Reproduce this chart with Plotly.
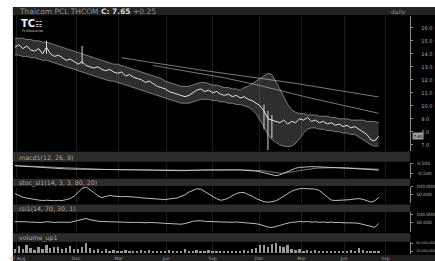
import plotly.graph_objects as go

W, H = 435, 261

# ---------------- data ----------------
price_close = [
    14.5, 14.7, 14.4, 14.6, 14.3, 14.2, 14.4, 14.0, 14.5, 14.0,
    13.8, 13.9, 13.7, 13.5, 13.6, 13.4, 13.2, 13.4, 13.1, 13.0,
    12.9, 13.0, 12.8, 12.7, 12.8, 12.6, 12.5, 12.6, 12.3, 12.4,
    12.2, 12.1, 12.0, 11.8, 11.9, 11.7, 11.5, 11.4, 11.3, 11.1,
    11.0, 10.9, 10.8, 10.7, 10.8, 11.0, 11.2, 11.3, 11.1, 11.2,
    11.0, 11.1, 10.9, 10.8, 10.9, 10.7, 10.8, 10.6, 10.7, 10.5,
    10.4, 10.2, 10.0, 9.6, 9.0, 8.9, 8.8, 8.7, 8.9, 8.6,
    8.8, 8.7, 9.0, 8.9, 9.1, 8.8, 8.9, 8.7, 8.8, 8.6,
    8.7, 8.5, 8.6, 8.4, 8.5, 8.3, 8.4, 8.2, 8.0, 7.8,
    7.4, 7.3, 7.65,
]
bb_upper = [
    15.2, 15.2, 15.2, 15.1, 15.1, 15.0, 15.0, 14.9, 14.9, 14.8,
    14.7, 14.6, 14.5, 14.4, 14.3, 14.2, 14.1, 14.0, 13.9, 13.8,
    13.7, 13.6, 13.5, 13.4, 13.3, 13.2, 13.2, 13.1, 13.0, 12.9,
    12.8, 12.7, 12.6, 12.5, 12.4, 12.3, 12.2, 12.1, 11.9, 11.8,
    11.7, 11.6, 11.5, 11.5, 11.5, 11.6, 11.7, 11.8, 11.8, 11.7,
    11.6, 11.6, 11.5, 11.4, 11.4, 11.3, 11.3, 11.2, 11.4, 11.5,
    11.7, 11.9, 12.1, 12.3, 12.5, 12.4, 11.9, 11.3, 10.7, 10.1,
    9.7, 9.5, 9.4, 9.4, 9.3, 9.3, 9.3, 9.2, 9.2, 9.2,
    9.1, 9.1, 9.0, 9.0, 9.0, 8.9, 8.9, 8.9, 8.9, 8.8,
    8.8, 8.8, 8.7,
]
bb_lower = [
    13.9, 13.9, 13.8, 13.8, 13.7, 13.7, 13.6, 13.5, 13.5, 13.4,
    13.3, 13.2, 13.1, 13.0, 12.9, 12.8, 12.7, 12.6, 12.5, 12.4,
    12.3, 12.2, 12.1, 12.0, 11.9, 11.9, 11.8, 11.7, 11.6, 11.5,
    11.4, 11.3, 11.2, 11.1, 11.0, 10.9, 10.8, 10.7, 10.6, 10.5,
    10.4, 10.3, 10.2, 10.2, 10.2, 10.3, 10.4, 10.5, 10.5, 10.5,
    10.4, 10.4, 10.3, 10.3, 10.2, 10.2, 10.1, 10.1, 10.0, 9.9,
    9.7, 9.4, 8.9, 8.3, 7.8, 7.4, 7.2, 7.0, 6.9, 6.85,
    6.9, 7.1, 7.5, 7.9, 8.2, 8.3, 8.3, 8.2, 8.2, 8.1,
    8.1, 8.0, 8.0, 7.9, 7.9, 7.8, 7.8, 7.6, 7.4, 7.2,
    7.0, 6.9, 6.9,
]
ma_long1 = [None] * 27 + [
    13.70, 13.66, 13.61, 13.56, 13.51, 13.46, 13.41, 13.36, 13.31, 13.26,
    13.21, 13.16, 13.11, 13.06, 13.01, 12.96, 12.91, 12.86, 12.82, 12.78,
    12.74, 12.70, 12.66, 12.62, 12.58, 12.54, 12.50, 12.46, 12.42, 12.38,
    12.34, 12.30, 12.26, 12.22, 12.18, 12.14, 12.10, 12.06, 12.02, 11.97,
    11.92, 11.87, 11.82, 11.77, 11.72, 11.67, 11.62, 11.57, 11.52, 11.47,
    11.42, 11.37, 11.32, 11.27, 11.22, 11.17, 11.12, 11.07, 11.02, 10.97,
    10.92, 10.87, 10.82, 10.77, 10.72, 10.68,
]
ma_long2 = [None] * 35 + [
    13.10, 13.05, 13.00, 12.95, 12.90, 12.85, 12.80, 12.75, 12.70, 12.65,
    12.60, 12.55, 12.50, 12.45, 12.39, 12.33, 12.27, 12.21, 12.15, 12.09,
    12.03, 11.97, 11.91, 11.85, 11.78, 11.71, 11.64, 11.56, 11.48, 11.40,
    11.32, 11.24, 11.16, 11.08, 11.00, 10.93, 10.86, 10.79, 10.72, 10.65,
    10.58, 10.51, 10.44, 10.37, 10.30, 10.23, 10.16, 10.09, 10.02, 9.95,
    9.88, 9.81, 9.74, 9.67, 9.60, 9.53, 9.47, 9.42,
]
wick_index = [8, 17, 63, 64, 65]
wick_high = [15.0, 14.6, 10.1, 9.6, 9.3]
wick_low = [14.0, 13.2, 8.2, 6.6, 7.5]

macd_line = [
    0.30, 0.27, 0.24, 0.20, 0.18, 0.15, 0.12, 0.10, 0.08, 0.05,
    0.03, 0.01, 0.00, -0.02, -0.03, -0.04, -0.05, -0.06, -0.06, -0.07,
    -0.08, -0.08, -0.09, -0.09, -0.10, -0.10, -0.10, -0.11, -0.11, -0.11,
    -0.12, -0.12, -0.12, -0.13, -0.13, -0.14, -0.14, -0.15, -0.16, -0.17,
    -0.18, -0.19, -0.20, -0.20, -0.19, -0.17, -0.15, -0.13, -0.12, -0.11,
    -0.11, -0.10, -0.10, -0.11, -0.11, -0.12, -0.12, -0.13, -0.14, -0.16,
    -0.19, -0.24, -0.31, -0.42, -0.55, -0.66, -0.70, -0.62, -0.45, -0.25,
    -0.08, 0.05, 0.13, 0.18, 0.20, 0.21, 0.20, 0.19, 0.17, 0.15,
    0.13, 0.11, 0.09, 0.07, 0.05, 0.03, 0.01, -0.01, -0.04, -0.07,
    -0.10, -0.13, -0.14,
]
macd_signal = [
    0.32, 0.30, 0.28, 0.26, 0.24, 0.22, 0.19, 0.17, 0.15, 0.13,
    0.11, 0.09, 0.07, 0.05, 0.03, 0.02, 0.00, -0.01, -0.02, -0.03,
    -0.04, -0.05, -0.06, -0.07, -0.08, -0.08, -0.09, -0.09, -0.10, -0.10,
    -0.11, -0.11, -0.11, -0.12, -0.12, -0.12, -0.13, -0.13, -0.14, -0.14,
    -0.15, -0.16, -0.17, -0.18, -0.18, -0.18, -0.17, -0.16, -0.15, -0.14,
    -0.13, -0.12, -0.12, -0.11, -0.11, -0.11, -0.12, -0.12, -0.12, -0.13,
    -0.14, -0.15, -0.18, -0.22, -0.28, -0.35, -0.41, -0.45, -0.45, -0.41,
    -0.34, -0.26, -0.18, -0.11, -0.05, 0.00, 0.04, 0.07, 0.09, 0.10,
    0.11, 0.11, 0.11, 0.10, 0.09, 0.08, 0.07, 0.05, 0.03, 0.01,
    -0.01, -0.03, -0.05,
]
stoch = [
    56, 45, 33, 28, 22, 19, 15, 12, 14, 12,
    11, 13, 12, 18, 25, 40, 65, 88, 98, 82,
    62, 42, 30, 38, 44, 40, 37, 36, 38, 37,
    34, 32, 29, 27, 28, 27, 22, 19, 18, 22,
    25, 28, 38, 48, 65, 78, 86, 84, 68, 56,
    38, 24, 14, 18, 28, 44, 56, 63, 62, 50,
    40, 24, 12, 5, 1, 4, 10, 24, 38, 55,
    72, 82, 87, 88, 88, 87, 84, 75, 55, 33,
    15, 12, 13, 12, 14, 18, 22, 24, 20, 12,
    2, 10, 31,
]
rsi = [
    54, 55, 52, 53, 51, 50, 52, 49, 54, 50,
    49, 51, 50, 48, 50, 56, 62, 70, 74, 66,
    60, 57, 55, 54, 52, 51, 50, 51, 49, 50,
    49, 50, 48, 47, 49, 46, 47, 45, 43, 40,
    38, 37, 38, 42, 50, 56, 59, 60, 56, 55,
    51, 52, 50, 49, 51, 50, 52, 50, 51, 49,
    45, 41, 36, 28, 20, 17, 22, 30, 38, 45,
    50, 51, 55, 53, 55, 51, 53, 50, 52, 49,
    51, 48, 50, 47, 48, 45, 46, 43, 36, 30,
    22, 18, 42,
]
volume_m = [
    22, 35, 18, 40, 26, 15, 30, 20, 38, 24,
    28, 32, 18, 25, 36, 22, 20, 30, 48, 26,
    15, 22, 12, 18, 10, 14, 9, 12, 16, 8,
    11, 7, 13, 9, 15, 10, 8, 12, 6, 14,
    9, 11, 7, 18, 12, 8, 15, 10, 9, 13,
    8, 11, 6, 9, 12, 7, 10, 8, 14, 12,
    18, 25, 38, 42, 30, 45, 52, 35, 28, 40,
    22, 15, 18, 12, 14, 10, 13, 9, 11, 8,
    10, 7, 9, 12, 8, 15, 11, 24, 13, 9,
    12, 8, 10,
]
volume = [v * 1_000_000 for v in volume_m]

month_labels = ["'17 Aug", "Dec", "Mar", "Jun", "Sep", "Dec", "Mar", "Jun", "Sep"]
month_pos = [0.5, 15.5, 26.25, 38.25, 50, 61.75, 72.5, 83.25, 93.75]
price_ticks = [16, 15, 14, 13, 12, 11, 10, 9, 8, 7]
macd_ticks = [0.5, -0.5]
macd_tick_text = ["0.500", "-0.500"]
osc_ticks = [100, 50]
osc_tick_text = ["100.000", "50.000"]
vol_ticks = [50_000_000, 10_000_000]
vol_tick_text = ["50,000,000", "10,000,000"]

title_text = "Thaicom PCL THCOM <b style='color:#dcdcdc'>C: 7.65</b> +0.25"
panel_labels = ["macd1(12, 26, 9)", "stoc_sl1(14, 3, 3, 80, 20)",
                "rsi1(14, 70, 30, 1)", "volume_up1"]
last_close = 7.65

# ---------------- layout helpers ----------------
def fx(p):
    return p / W

def fy(p):
    return 1 - p / H

idx = list(range(len(price_close)))
FONT = "DejaVu Sans"
LINE = "#d0d0d0"

fig = go.Figure()

# main panel
fig.add_trace(go.Scatter(x=idx, y=bb_upper, mode="lines",
                         line=dict(color="rgba(200,200,200,0.7)", width=0.8),
                         xaxis="x", yaxis="y", hoverinfo="skip"))
fig.add_trace(go.Scatter(x=idx, y=bb_lower, mode="lines", fill="tonexty",
                         fillcolor="rgba(120,120,120,0.38)",
                         line=dict(color="rgba(200,200,200,0.7)", width=0.8),
                         xaxis="x", yaxis="y", hoverinfo="skip"))
fig.add_trace(go.Scatter(x=idx, y=ma_long1, mode="lines",
                         line=dict(color="rgba(190,190,190,0.8)", width=0.8),
                         xaxis="x", yaxis="y"))
fig.add_trace(go.Scatter(x=idx, y=ma_long2, mode="lines",
                         line=dict(color="rgba(190,190,190,0.8)", width=0.8),
                         xaxis="x", yaxis="y"))
wx, wy = [], []
for i, hi, lo in zip(wick_index, wick_high, wick_low):
    wx += [i, i, None]
    wy += [lo, hi, None]
fig.add_trace(go.Scatter(x=wx, y=wy, mode="lines",
                         line=dict(color="#d8d8d8", width=1),
                         xaxis="x", yaxis="y"))
fig.add_trace(go.Scatter(x=idx, y=price_close, mode="lines",
                         line=dict(color="#e4e4e4", width=1),
                         xaxis="x", yaxis="y"))

# macd
fig.add_trace(go.Scatter(x=idx, y=macd_signal, mode="lines",
                         line=dict(color="#9a9a9a", width=0.8),
                         xaxis="x2", yaxis="y2"))
fig.add_trace(go.Scatter(x=idx, y=macd_line, mode="lines",
                         line=dict(color=LINE, width=0.9),
                         xaxis="x2", yaxis="y2"))
# stochastic
fig.add_trace(go.Scatter(x=idx, y=stoch, mode="lines",
                         line=dict(color=LINE, width=0.9),
                         xaxis="x3", yaxis="y3"))
# rsi
fig.add_trace(go.Scatter(x=idx, y=rsi, mode="lines",
                         line=dict(color=LINE, width=0.9),
                         xaxis="x4", yaxis="y4"))
# volume
fig.add_trace(go.Bar(x=idx, y=volume, marker=dict(color="#9a9a9a", line=dict(width=0)),
                     width=0.45, xaxis="x5", yaxis="y5"))

xdom = [fx(8), fx(410)]


def yaxis_style(size=5, standoff=2):
    return dict(showline=True, linecolor="#8a8a8a", linewidth=1,
                ticks="outside", ticklen=2, tickcolor="#8a8a8a",
                tickfont=dict(size=size, color="#b0b0b0", family=FONT),
                side="right", showgrid=False, zeroline=False,
                ticklabelstandoff=standoff)


layout = dict(
    width=W, height=H, autosize=False,
    margin=dict(l=0, r=0, t=0, b=0),
    paper_bgcolor="white", plot_bgcolor="rgba(0,0,0,0)",
    showlegend=False, bargap=0,
    font=dict(family=FONT, color="#aaaaaa"),
)
for k in range(1, 6):
    xname = "xaxis" if k == 1 else f"xaxis{k}"
    yref = "y" if k == 1 else f"y{k}"
    layout[xname] = dict(domain=xdom, range=[-0.5, 100], anchor=yref,
                         showgrid=True, gridcolor="#1d1d1d", gridwidth=1,
                         zeroline=False, showline=False,
                         tickvals=month_pos, ticktext=month_labels,
                         showticklabels=(k == 5), ticks="",
                         ticklabelstandoff=0,
                         tickfont=dict(size=4.5, color="#a0a0a0", family=FONT))
    if k > 1:
        layout[xname]["matches"] = "x"

layout["yaxis"] = dict(domain=[fy(150), fy(14)], range=[6.534, 16.916],
                       anchor="x", tickvals=price_ticks, tickformat=".1f",
                       **yaxis_style(5, 7))
layout["yaxis2"] = dict(domain=[fy(177), fy(162)], range=[-0.9, 0.6], anchor="x2",
                        tickvals=macd_ticks, ticktext=macd_tick_text, **yaxis_style(4.5, 3))
layout["yaxis3"] = dict(domain=[fy(203), fy(186)], range=[-6.25, 100], anchor="x3",
                        tickvals=osc_ticks, ticktext=osc_tick_text, **yaxis_style(4.5, 2))
layout["yaxis4"] = dict(domain=[fy(232), fy(212)], range=[-12.5, 112.5], anchor="x4",
                        tickvals=osc_ticks, ticktext=osc_tick_text, **yaxis_style(4.5, 2))
layout["yaxis5"] = dict(domain=[fy(254), fy(242)], range=[-5_000_000, 55_000_000],
                        anchor="x5", tickvals=vol_ticks, ticktext=vol_tick_text,
                        **yaxis_style(3.4, 2))

shapes = []
# dark page area (white border left and top)
shapes.append(dict(type="rect", xref="paper", yref="paper", x0=fx(8), x1=1,
                   y0=0, y1=fy(5), fillcolor="#000000", line=dict(width=0),
                   layer="below"))
# title bar
shapes.append(dict(type="rect", xref="paper", yref="paper", x0=fx(8), x1=1,
                   y0=fy(13), y1=fy(5), fillcolor="#232323", line=dict(width=0),
                   layer="below"))
# panel header bands
for top, bot in [(151, 161), (178, 185.5), (204, 211.5), (233, 241.5)]:
    shapes.append(dict(type="rect", xref="paper", yref="paper", x0=fx(8), x1=fx(410),
                       y0=fy(bot), y1=fy(top), fillcolor="#2c2c2c",
                       line=dict(width=0), layer="below"))
# bottom axis strip
shapes.append(dict(type="rect", xref="paper", yref="paper", x0=fx(8), x1=1,
                   y0=0, y1=fy(255), fillcolor="#1e1e1e", line=dict(width=0),
                   layer="below"))
layout["shapes"] = shapes

annotations = [
    dict(text=title_text, xref="paper", yref="paper", x=fx(12), y=fy(9.2),
         xanchor="left", yanchor="middle", showarrow=False,
         font=dict(size=7.5, color="#8c8c8c", family=FONT)),
    dict(text="daily", xref="paper", yref="paper", x=fx(408), y=fy(10),
         xanchor="right", yanchor="middle", showarrow=False,
         font=dict(size=6, color="#8a8a8a", family=FONT)),
    dict(text="<b>TC</b><b style='font-size:8px'>☷</b>", xref="paper", yref="paper",
         x=fx(14), y=fy(22), xanchor="left", yanchor="middle", showarrow=False,
         font=dict(size=10, color="#f2f2f2", family=FONT)),
    dict(text="Professional", xref="paper", yref="paper", x=fx(15), y=fy(29.5),
         xanchor="left", yanchor="middle", showarrow=False,
         font=dict(size=3.5, color="#bbbbbb", family=FONT)),
    dict(text=f"{last_close:.2f}", xref="paper", yref="y", x=fx(412), y=last_close,
         xanchor="left", yanchor="middle", showarrow=False, bgcolor="#9a9a9a",
         borderpad=0.5, font=dict(size=4, color="#111111", family=FONT)),
]
for lab, py in zip(panel_labels, [156.5, 182, 208, 237.5]):
    annotations.append(dict(text=lab, xref="paper", yref="paper", x=fx(12), y=fy(py),
                            xanchor="left", yanchor="middle", showarrow=False,
                            font=dict(size=6.3, color="#a8a8a8", family=FONT)))
layout["annotations"] = annotations

fig.update_layout(**layout)
fig.write_html("out.html", config={"displayModeBar": False},
               post_script="document.body.style.margin='0';document.body.style.overflow='hidden';")
